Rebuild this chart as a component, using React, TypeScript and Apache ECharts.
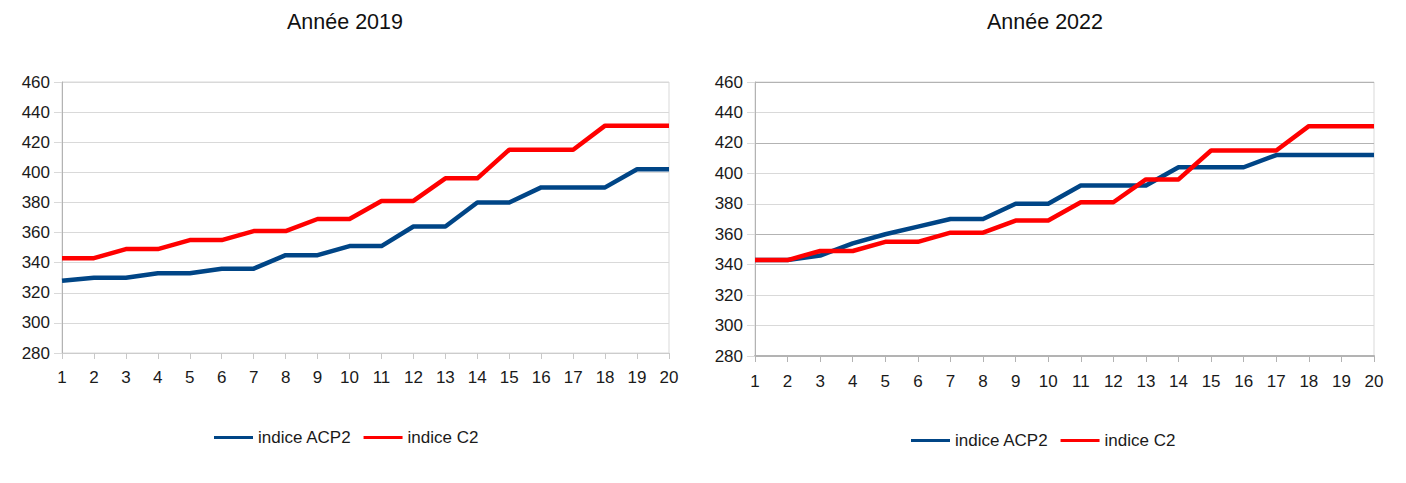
import React, { useEffect, useRef } from "react";
import * as echarts from "echarts";

const categories = ["1","2","3","4","5","6","7","8","9","10","11","12","13","14","15","16","17","18","19","20"];
const acp2019 = [328,330,330,333,333,336,336,345,345,351,351,364,364,380,380,390,390,390,402,402];
const c2019 = [343,343,349,349,355,355,361,361,369,369,381,381,396,396,415,415,415,431,431,431];
const acp2022 = [343,343,346,354,360,365,370,370,380,380,392,392,392,404,404,404,412,412,412,412];
const c2022 = [343,343,349,349,355,355,361,361,369,369,381,381,396,396,415,415,415,431,431,431];
const titles = ["Année 2019", "Année 2022"];
const seriesNames = ["indice ACP2", "indice C2"];

const BLUE = "#004586";
const RED = "#ff0000";
const FONT = "Liberation Sans, Arial, sans-serif";
const LIGHT = "#d9d9d9";
const DARK = "#b3b3b3";

export default function App() {
  const ref = useRef<HTMLDivElement>(null);
  useEffect(() => {
    if (!ref.current) return;
    const chart = echarts.init(ref.current, undefined, { renderer: "svg" });
    const lineSeries = (name: string, data: number[], color: string, idx: number) => ({
      name,
      type: "line",
      data,
      xAxisIndex: idx,
      yAxisIndex: idx,
      symbol: "none",
      showSymbol: false,
      lineStyle: { color, width: 4.5, join: "round" },
      itemStyle: { color },
    });
    const xAxis = (idx: number) => ({
      type: "category",
      gridIndex: idx,
      data: categories,
      boundaryGap: false,
      axisLine: { lineStyle: { color: idx === 0 ? "#cccccc" : DARK, width: idx === 0 ? 1 : 2 } },
      axisTick: { show: true, length: 6, lineStyle: { color: idx === 0 ? "#c8c8c8" : DARK } },
      axisLabel: { fontSize: 17, color: "#1a1a1a", fontFamily: FONT, margin: idx === 0 ? 16 : 17 },
      splitLine: { show: false },
    });
    const yAxis = (idx: number) => ({
      type: "value",
      gridIndex: idx,
      min: 280,
      max: 460,
      interval: 20,
      axisLine: { show: true, lineStyle: { color: DARK, width: 1 } },
      axisTick: { show: true, length: 8, lineStyle: { color: LIGHT } },
      axisLabel: { fontSize: 17, color: "#1a1a1a", fontFamily: FONT, margin: 12 },
      splitLine: {
        show: true,
        lineStyle: {
          color: idx === 0
            ? LIGHT
            : [DARK, LIGHT, LIGHT, DARK, DARK, LIGHT, LIGHT, DARK, LIGHT, DARK],
          width: 1,
        },
      },
    });
    const legendCommon = {
      itemWidth: 39,
      itemHeight: 3,
      itemGap: 12,
      icon: "rect",
      selectedMode: false,
      textStyle: { fontSize: 17, color: "#1a1a1a", fontFamily: FONT },
    };
    chart.setOption({
      animation: false,
      backgroundColor: "#ffffff",
      title: [
        { text: titles[0], left: 340, top: 6, textAlign: "center", textStyle: { fontSize: 21.5, fontWeight: "normal", color: "#111", fontFamily: FONT } },
        { text: titles[1], left: 1040, top: 6, textAlign: "center", textStyle: { fontSize: 21.5, fontWeight: "normal", color: "#111", fontFamily: FONT } },
      ],
      legend: [
        { ...legendCommon, left: 209, top: 424, data: seriesNames },
        { ...legendCommon, left: 906, top: 427, data: seriesNames },
      ],
      grid: [
        { left: 62, top: 82, width: 607, height: 271, show: true, borderColor: LIGHT, borderWidth: 1, backgroundColor: "transparent" },
        { left: 755, top: 82, width: 619, height: 274, show: true, borderColor: LIGHT, borderWidth: 1, backgroundColor: "transparent" },
      ],
      xAxis: [xAxis(0), xAxis(1)],
      yAxis: [yAxis(0), yAxis(1)],
      series: [
        lineSeries(seriesNames[0], acp2019, BLUE, 0),
        lineSeries(seriesNames[1], c2019, RED, 0),
        lineSeries(seriesNames[0], acp2022, BLUE, 1),
        lineSeries(seriesNames[1], c2022, RED, 1),
      ],
    });
    return () => chart.dispose();
  }, []);
  return (
    <div
      ref={ref}
      style={{ position: "absolute", left: 0, top: 0, width: 1406, height: 483 }}
    />
  );
}
